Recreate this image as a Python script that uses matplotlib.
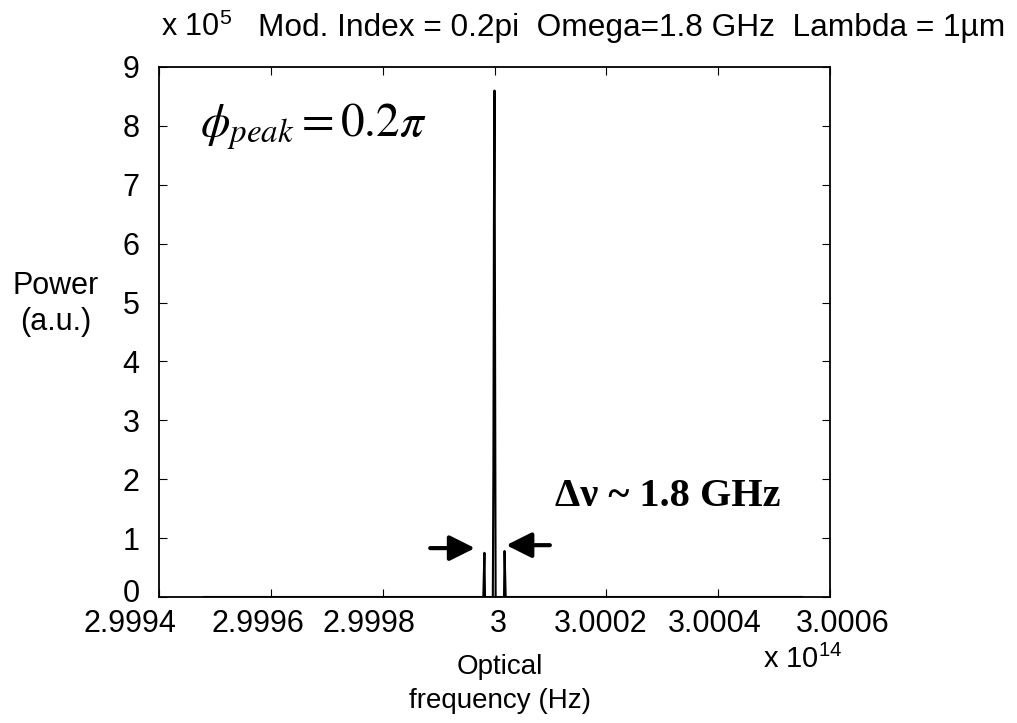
import matplotlib.pyplot as plt
import matplotlib.transforms as mtransforms
import numpy as np

plt.rcParams['font.family'] = ['Liberation Sans', 'DejaVu Sans']
plt.rcParams['mathtext.fontset'] = 'stix'

# spectrum samples: offset from carrier (GHz) and power (x 1e5 a.u.)
center_hz = 3.0e14
offset_ghz = [-52.0, -2.0, -1.9, -1.8, -1.7, -0.3, -0.2, -0.1, 0.0, 0.1, 0.2, 1.7, 1.8, 1.9, 2.0, 55.0]
power = [0.0, 0.0, 0.4, 0.75, 0.0, 0.0, 2.15, 6.45, 8.6, 4.3, 0.0, 0.0, 0.78, 0.4, 0.0, 0.0]

xticks = [2.9994, 2.9996, 2.9998, 3.0, 3.0002, 3.0004, 3.0006]
xticklabels = ['2.9994', '2.9996', '2.9998', '3', '3.0002', '3.0004', '3.0006']
yticks = [0, 1, 2, 3, 4, 5, 6, 7, 8, 9]

freq = (center_hz + np.array(offset_ghz) * 1e9) / 1e14

fig = plt.figure(figsize=(10.17, 7.23), dpi=100)
ax = fig.add_axes([159 / 1017, 1 - 597 / 723, 671 / 1017, 530 / 723])

ax.plot(freq, power, color='black', lw=1.5)
ax.set_xlim(2.9994, 3.0006)
ax.set_ylim(0, 9)
ax.set_xticks(xticks)
ax.set_xticklabels(xticklabels)
ax.set_yticks(yticks)
ax.tick_params(axis='both', direction='in', top=True, right=True, length=6, labelsize=22)
ax.tick_params(axis='y', pad=14)
ax.tick_params(axis='x', pad=9)
for s in ax.spines.values():
    s.set_linewidth(1.3)

# the old printout has its tick labels slightly off the ticks
label_shift = [-29, -13, -14, 4, -6, -3, 13]
for tick, dx in zip(ax.xaxis.get_major_ticks(), label_shift):
    lab = tick.label1
    lab.set_transform(lab.get_transform() +
                      mtransforms.ScaledTranslation(dx / 100, 0, fig.dpi_scale_trans))
lab0 = ax.yaxis.get_major_ticks()[0].label1
lab0.set_transform(lab0.get_transform() +
                   mtransforms.ScaledTranslation(0, 6 / 100, fig.dpi_scale_trans))

fig.text(161 / 1017, 1 - 28 / 723, r'x 10$^\mathregular{5}$', fontsize=22, va='center')
fig.text(258 / 1017, 1 - 28 / 723, 'Mod. Index = 0.2pi  Omega=1.8 GHz  Lambda = 1\u00b5m',
         fontsize=22.8, va='center')
fig.text(56 / 1017, 1 - 304 / 723, 'Power\n(a.u.)', fontsize=22, ha='center', va='center',
         linespacing=1.3)
fig.text(500 / 1017, 1 - 684 / 723, 'Optical\nfrequency (Hz)', fontsize=20, ha='center',
         va='center', linespacing=1.35)
fig.text(763 / 1017, 1 - 660 / 723, r'x 10$^\mathregular{14}$', fontsize=21, va='center')

ax.text(0.061, 0.887, r'$\phi_{peak} = 0.2\pi$', transform=ax.transAxes, fontsize=34,
        va='center', ha='left')
ax.text(0.59, 0.19, '\u0394\u03bd ~ 1.8 GHz', transform=ax.transAxes, fontsize=29,
        fontweight='bold', family='Liberation Serif', va='center', ha='left')

arrow = dict(arrowstyle='-|>,head_length=1.1,head_width=0.55', color='black', lw=3,
             mutation_scale=14, shrinkA=0, shrinkB=0)
ax.annotate('', xy=(2.999965, 0.83), xytext=(2.999885, 0.83), arrowprops=arrow)
ax.annotate('', xy=(3.000021, 0.88), xytext=(3.000099, 0.88), arrowprops=arrow)

fig.savefig('out.png', dpi=100)
